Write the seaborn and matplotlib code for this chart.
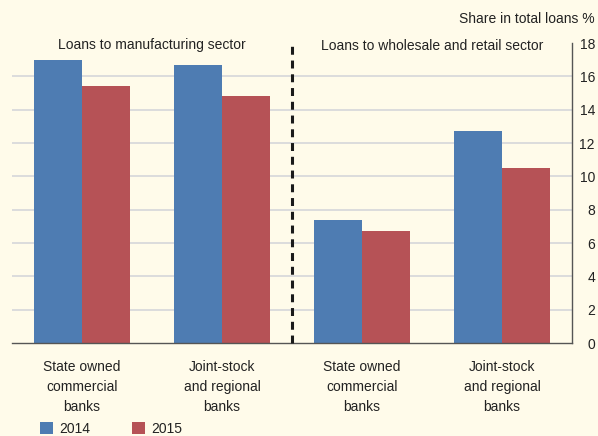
import matplotlib
matplotlib.use("Agg")
import matplotlib.pyplot as plt
import seaborn as sns
import pandas as pd
from matplotlib.patches import Patch

# Bank groups per sector (unique keys), with the labels shown under each pair of bars
groups = ["mfg_state", "mfg_joint", "trade_state", "trade_joint"]
tick_labels = [
    "State owned\ncommercial\nbanks",
    "Joint-stock\nand regional\nbanks",
    "State owned\ncommercial\nbanks",
    "Joint-stock\nand regional\nbanks",
]
years = ["2014", "2015"]
share_2014 = [17.0, 16.7, 7.4, 12.7]
share_2015 = [15.4, 14.8, 6.7, 10.5]
sector_titles = ["Loans to manufacturing sector", "Loans to wholesale and retail sector"]
sector_centers = [0.5, 2.5]
sector_divider = 1.5
y_ticks = list(range(0, 19, 2))
y_label = "Share in total loans %"

BG = "#FFFBEA"
BLUE = "#4E7CB2"
RED = "#B65256"
TEXT = "#222222"
AXIS = "#555555"
GRID = "#DCDCDC"
FS = 10

df = pd.DataFrame({
    "group": groups * 2,
    "year": [years[0]] * len(groups) + [years[1]] * len(groups),
    "share": share_2014 + share_2015,
})

sns.set_style("white")
plt.rcParams["font.family"] = ["Liberation Sans", "DejaVu Sans"]
plt.rcParams["font.size"] = FS
plt.rcParams["text.color"] = TEXT

fig = plt.figure(figsize=(5.98, 4.36), dpi=100, facecolor=BG)
ax = fig.add_axes([12 / 598, 1 - 343 / 436, (572 - 12) / 598, 300 / 436])
ax.set_facecolor(BG)

sns.barplot(
    data=df, x="group", y="share", hue="year",
    order=groups, hue_order=years, palette=[BLUE, RED],
    width=0.685, saturation=1, errorbar=None, legend=False, ax=ax,
)
for bar in ax.patches:
    bar.set_linewidth(0)

ax.set_xlim(-0.5, 3.5)
ax.set_ylim(0, 18)
ax.set_xlabel("")
ax.set_ylabel("")

# Right-hand value axis with horizontal guides
ax.yaxis.tick_right()
ax.set_yticks(y_ticks)
ax.set_yticklabels([str(v) for v in y_ticks])
ax.tick_params(axis="y", length=0, pad=16.5, labelsize=FS, labelcolor=TEXT)
for lab in ax.get_yticklabels():
    lab.set_horizontalalignment("right")
ax.set_axisbelow(True)
ax.yaxis.grid(True, color=GRID, linewidth=1.4)
ax.get_ygridlines()[-1].set_visible(False)
ax.get_ygridlines()[0].set_visible(False)

# Category axis: labels at bar pairs, small separator ticks between them
ax.set_xticks(range(len(groups)))
ax.set_xticklabels(tick_labels, linespacing=1.53)
ax.tick_params(axis="x", which="major", length=0, pad=12.5, labelsize=FS, labelcolor=TEXT)
ax.set_xticks([-0.5, 0.5, 2.5], minor=True)
ax.tick_params(axis="x", which="minor", direction="in", length=6, width=1, color=AXIS)

for side in ["top", "left"]:
    ax.spines[side].set_visible(False)
for side in ["right", "bottom"]:
    ax.spines[side].set_color(AXIS)
    ax.spines[side].set_linewidth(1)

# Sector divider and headers
ax.vlines(sector_divider, 0, 18.15, colors="#1A1A1A", linewidth=2.2,
          linestyles=(0, (2.6, 1.9)), clip_on=False, zorder=5)
for title, cx in zip(sector_titles, sector_centers):
    ax.text(cx, 17.85, title, ha="center", va="center", fontsize=FS, color=TEXT)

fig.text(595 / 598, 1 - 19 / 436, y_label, ha="right", va="center", fontsize=FS, color=TEXT)

handles = [Patch(facecolor=BLUE, edgecolor="none"), Patch(facecolor=RED, edgecolor="none")]
fig.legend(
    handles, years, loc="center left", bbox_to_anchor=(40 / 598, 1 - 429 / 436),
    ncol=2, frameon=False, handlelength=0.95, handleheight=0.95,
    handletextpad=0.45, columnspacing=3.0, borderpad=0, borderaxespad=0, fontsize=FS,
)

fig.savefig("out.png", dpi=100, facecolor=BG)
